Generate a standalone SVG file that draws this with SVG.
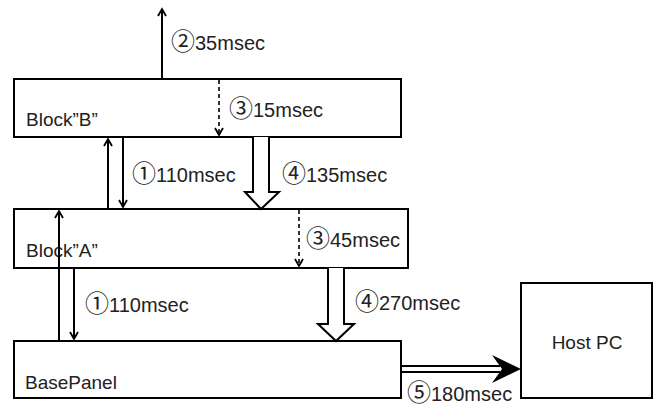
<svg xmlns="http://www.w3.org/2000/svg" width="656" height="407" viewBox="0 0 656 407">
<defs>
<style>
.box{fill:#fff;stroke:#000;stroke-width:2}
.t{font-family:"Liberation Sans","Noto Sans CJK JP",sans-serif;font-size:19px;fill:#222}
.l{font-family:"Liberation Sans","Noto Sans CJK JP",sans-serif;font-size:20px;fill:#222}
.c{font-family:"Noto Sans CJK JP",sans-serif;font-size:24px}
.ln{stroke:#000;stroke-width:2;fill:none}
.dash{stroke:#000;stroke-width:1.6;fill:none;stroke-dasharray:4 3}
.hollow{fill:#fff;stroke:#000;stroke-width:2;stroke-linejoin:miter}
</style>
<marker id="ah" markerWidth="10" markerHeight="10" refX="8" refY="5" orient="auto" markerUnits="userSpaceOnUse">
<path d="M1,1 L8,5 L1,9" fill="none" stroke="#000" stroke-width="1.8"/>
</marker>
</defs>
<g id="block-b">
<rect class="box" x="14" y="79" width="387" height="58"/>
<text class="t" x="26" y="126">Block”B”</text>
</g>
<g id="block-a">
<rect class="box" x="14" y="209" width="394" height="59"/>
<text class="t" x="26" y="257">Block”A”</text>
</g>
<g id="basepanel">
<rect class="box" x="14" y="341" width="387" height="57"/>
<text class="t" x="25" y="389">BasePanel</text>
</g>
<g id="host-pc">
<rect class="box" x="521" y="283" width="131" height="115"/>
<text class="t" x="587" y="349" text-anchor="middle">Host PC</text>
</g>
<g id="connectors">
<line class="ln" x1="162" y1="79" x2="162" y2="9" marker-end="url(#ah)"/>
<line class="dash" x1="219" y1="80" x2="219" y2="135" marker-end="url(#ah)"/>
<line class="ln" x1="108" y1="209" x2="108" y2="139" marker-end="url(#ah)"/>
<line class="ln" x1="123" y1="137" x2="123" y2="207" marker-end="url(#ah)"/>
<path class="hollow" d="M253,137 L253,192 L245,192 L261,209 L279,192 L269,192 L269,137"/>
<line class="dash" x1="299" y1="210" x2="299" y2="266" marker-end="url(#ah)"/>
<line class="ln" x1="59" y1="341" x2="59" y2="211" marker-end="url(#ah)"/>
<line class="ln" x1="74" y1="268" x2="74" y2="339" marker-end="url(#ah)"/>
<path class="hollow" d="M328,268 L328,324 L318,324 L336,341 L354,324 L344,324 L344,268"/>
<line class="ln" x1="401" y1="366" x2="500" y2="366"/>
<line class="ln" x1="401" y1="372" x2="500" y2="372"/>
<path d="M492,355 L521,369 L492,383 L502,369 Z" fill="#000"/>
<text class="l" x="171" y="50"><tspan class="c">②</tspan>35msec</text>
<text class="l" x="229" y="117"><tspan class="c">③</tspan>15msec</text>
<text class="l" x="132" y="182"><tspan class="c">①</tspan>110msec</text>
<text class="l" x="282" y="182"><tspan class="c">④</tspan>135msec</text>
<text class="l" x="306" y="247"><tspan class="c">③</tspan>45msec</text>
<text class="l" x="85" y="312"><tspan class="c">①</tspan>110msec</text>
<text class="l" x="355" y="310"><tspan class="c">④</tspan>270msec</text>
<text class="l" x="407" y="401"><tspan class="c">⑤</tspan>180msec</text>
</g>
</svg>
